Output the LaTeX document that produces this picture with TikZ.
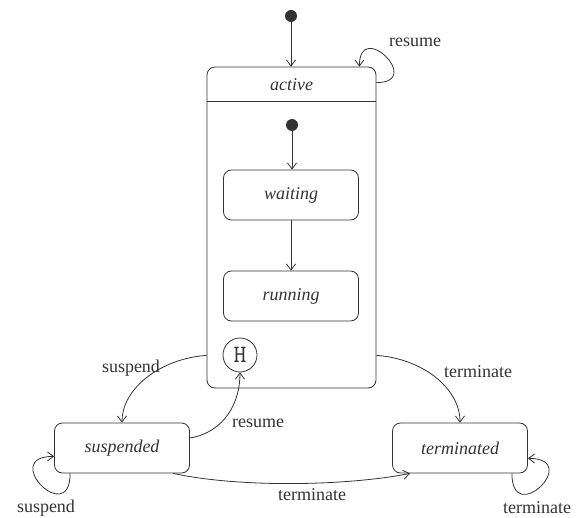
\documentclass[tikz,border=0pt]{standalone}
\usepackage{fontspec}
\setmainfont{Liberation Serif}
\usetikzlibrary{arrows.meta,calc}
\definecolor{ink}{HTML}{333333}

\begin{document}
\begin{tikzpicture}[x=1pt,y=-1pt,  % 1 unit = 1 px, y downwards
  state/.style={draw=ink,line width=0.8pt,rounded corners=8pt,minimum width=135pt,
    minimum height=50pt,inner sep=0pt,text=ink,font=\fontsize{18}{20}\selectfont\itshape},
  init/.style={circle,fill=ink,minimum size=12pt,inner sep=0pt},
  lbl/.style={text=ink,inner sep=0pt,font=\fontsize{18}{20}\selectfont},
  tr/.style={draw=ink,line width=0.8pt,-{Straight Barb[length=6pt,width=9pt]}}]
  \useasboundingbox (0,0) rectangle (580,518);
  % ---- composite state
  \node[draw=ink,line width=0.8pt,rounded corners=8pt,minimum width=169pt,minimum height=321pt,
    inner sep=0pt] (active) at (291.5,227.5) {};
  \draw[ink,line width=0.8pt] ([yshift=-35pt]active.north west) -- ([yshift=-35pt]active.north east);
  \node[lbl,font=\fontsize{18}{20}\selectfont\itshape] (activetitle) at (291.5,85) {active};
  \node[init] (start) at (291,16) {};
  \node[init] (innerstart) at (292,125) {};
  \node[state] (waiting) at (291,195) {waiting};
  \node[state] (running) at (291,296) {running};
  \node[circle,draw=ink,line width=0.8pt,minimum size=34pt,inner sep=0pt,text=ink,
    font=\fontsize{25}{27}\selectfont\ttfamily] (hist) at (240,355) {H};
  % ---- outer states
  \node[state] (suspended) at (122,448) {suspended};
  \node[state] (terminated) at (460,448) {terminated};
  % ---- transitions
  \draw[tr] (start) -- (active.north -| start);
  \draw[tr] (innerstart) -- (waiting.north -| innerstart);
  \draw[tr] (waiting) -- (running);
  \draw[tr] ([yshift=-16pt]active.north east) .. controls +(48,0) and +(0,-48) .. ([xshift=-17pt]active.north east);
  \node[lbl] (resumetop) at (415,42) {resume};
  \draw[tr] ([yshift=33pt]active.south west) .. controls +(-45,3) and +(0,-35) .. (suspended.north);
  \node[lbl] (suspendlbl) at (131,368) {suspend};
  \draw[tr] ([yshift=33pt]active.south east) .. controls +(45,3) and +(0,-35) .. (terminated.north);
  \node[lbl] (terminatelbl) at (478,372) {terminate};
  \draw[tr] ([yshift=10pt]suspended.east) .. controls +(35,-6) and +(0,30) .. (hist.south);
  \node[lbl] (resumelbl) at (258,423) {resume};
  \draw[tr] ([xshift=51pt]suspended.south) .. controls +(70,15) and +(-60,12) .. ([xshift=-50pt]terminated.south);
  \node[lbl] (terminatebot) at (312,495) {terminate};
  % ---- self loops
  \draw[tr] ([xshift=16pt]suspended.south west) .. controls +(0,55) and +(-55,0) .. ([yshift=17pt]suspended.south west);
  \node[lbl] (suspendloop) at (46,508) {suspend};
  \draw[tr] ([xshift=-16pt]terminated.south east) .. controls +(0,55) and +(55,0) .. ([yshift=15pt]terminated.south east);
  \node[lbl] (terminateloop) at (537,508) {terminate};
\end{tikzpicture}
\end{document}
